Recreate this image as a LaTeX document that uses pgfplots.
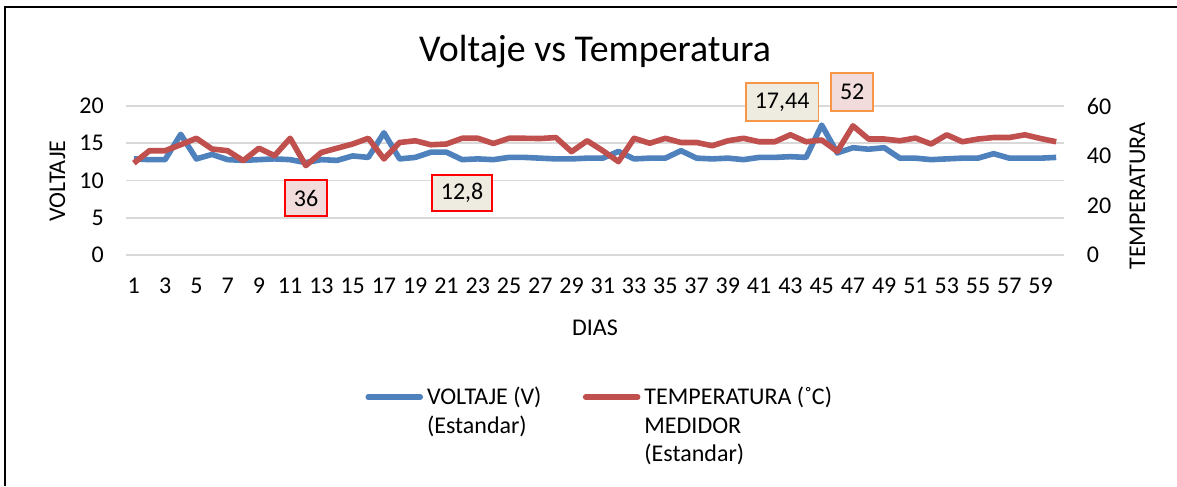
\documentclass[border=0pt]{standalone}
\usepackage{fontspec}
\setmainfont{Carlito}
\usepackage{pgfplots}
\pgfplotsset{compat=1.18}
\definecolor{vblue}{HTML}{4F81BD}
\definecolor{tred}{HTML}{C0504D}
\definecolor{gridgray}{HTML}{D9D9D9}
\definecolor{pinkfill}{HTML}{F2DCDB}
\definecolor{beigefill}{HTML}{EEECE1}
\definecolor{orangeb}{HTML}{F79646}
\pgfplotstableread{
d v
1 12.9
2 12.8
3 12.8
4 16.2
5 12.9
6 13.5
7 12.8
8 12.7
9 12.8
10 12.9
11 12.8
12 12.4
13 12.8
14 12.7
15 13.3
16 13.1
17 16.4
18 12.9
19 13.1
20 13.8
21 13.8
22 12.8
23 12.9
24 12.8
25 13.1
26 13.1
27 13.0
28 12.9
29 12.9
30 13.0
31 13.0
32 13.9
33 12.9
34 13.0
35 13.0
36 14.0
37 13.0
38 12.9
39 13.0
40 12.8
41 13.1
42 13.1
43 13.2
44 13.1
45 17.44
46 13.7
47 14.4
48 14.2
49 14.4
50 13.0
51 13.0
52 12.8
53 12.9
54 13.0
55 13.0
56 13.6
57 13.0
58 13.0
59 13.0
60 13.1
}\voltdata
\pgfplotstableread{
d t
1 37
2 42
3 42
4 44.4
5 47
6 42.7
7 42
8 38
9 43
10 40
11 47
12 36
13 41.3
14 43
15 44.7
16 47
17 38.7
18 45.3
19 46
20 44.4
21 44.7
22 47
23 47
24 44.9
25 47
26 47
27 46.9
28 47.3
29 41.6
30 46
31 42
32 37.6
33 47
34 45
35 47
36 45.3
37 45.3
38 44
39 46
40 47
41 45.6
42 45.6
43 48.4
44 45.6
45 46.3
46 41.7
47 52
48 46.7
49 46.7
50 46
51 47.1
52 44.7
53 48.4
54 45.6
55 46.7
56 47.3
57 47.3
58 48.4
59 46.9
60 45.6
}\tempdata
\begin{document}
\fontsize{18}{21.6}\selectfont
\begin{tikzpicture}
\path[use as bounding box] (0pt,0pt) rectangle (882.75pt,364.5pt);
\draw[black,line width=1.5pt] (3.75pt,0pt) -- (3.75pt,359.25pt) -- (882.75pt,359.25pt);
% left axis: voltage
\begin{axis}[
  at={(94.5pt,173.25pt)}, anchor=south west,
  scale only axis, width=703.5pt, height=111.75pt,
  xmin=0.5, xmax=60.5, ymin=0, ymax=20,
  xtick={1,3,...,59}, ytick={0,5,...,20},
  major tick length=0pt,
  axis line style={draw=none},
  ymajorgrids, grid style={gridgray,line width=1.3pt},
  /pgf/number format/assume math mode=true,
  tick label style={font=\fontsize{18}{21.6}\selectfont},
  yticklabel style={xshift=-10.5pt},
  xticklabel style={yshift=-11pt},
  clip=false,
  xlabel={DIAS},
  xlabel style={at={(axis description cs:0.5,-0.49)}, anchor=center, font=\fontsize{18}{21.6}\selectfont},
  ylabel={VOLTAJE},
  ylabel style={at={(axis description cs:-0.073,0.497)}, anchor=center, font=\fontsize{18}{21.6}\selectfont},
  title={Voltaje vs Temperatura},
  title style={at={(axis description cs:0.5,1.309)}, anchor=center, font=\fontsize{28.4}{33}\selectfont},
  legend columns=2,
  legend style={draw=none, fill=none, inner sep=0pt,
    at={(axis description cs:0.255,-0.865)}, anchor=north west,
    font=\fontsize{18}{21.6}\selectfont,
    cells={anchor=base west},
    nodes={inner xsep=3pt, inner ysep=0pt},
    /tikz/every even column/.append style={column sep=28pt}},
  legend image code/.code={\draw[#1,line cap=round] (0pt,0.3em) -- (39pt,0.3em);},
]
\addplot[vblue, line width=4.2pt, line join=round] table[x=d,y=v] {\voltdata};
\addlegendentry{\begin{tabular}[t]{@{}l@{}}VOLTAJE (V)\\(Estandar)\end{tabular}}
\addlegendimage{tred, line width=4.2pt}
\addlegendentry{\begin{tabular}[t]{@{}l@{}}TEMPERATURA (˚C)\\MEDIDOR\\(Estandar)\end{tabular}}
\node[draw=red, fill=pinkfill, line width=1.4pt, minimum height=27.5pt, inner xsep=6.5pt, inner ysep=0pt] at (axis cs:12.02,7.65) {36};
\node[draw=red, fill=beigefill, line width=1.4pt, minimum height=27.5pt, inner xsep=6.5pt, inner ysep=0pt] at (axis cs:22.0,8.32) {12,8};
\node[draw=orangeb, fill=beigefill, line width=1.4pt, minimum height=28.5pt, inner xsep=6.8pt, inner ysep=0pt] at (axis cs:42.47,20.54) {17,44};
\node[draw=orangeb, fill=pinkfill, line width=1.4pt, minimum height=28.5pt, inner xsep=6.5pt, inner ysep=0pt] at (axis cs:46.95,21.88) {52};
\end{axis}
% right axis: temperature
\begin{axis}[
  at={(94.5pt,173.25pt)}, anchor=south west,
  scale only axis, width=703.5pt, height=111.75pt,
  xmin=0.5, xmax=60.5, ymin=0, ymax=60,
  hide x axis,
  axis y line*=right,
  axis line style={draw=none},
  ytick={0,20,...,60},
  major tick length=0pt,
  /pgf/number format/assume math mode=true,
  tick label style={font=\fontsize{18}{21.6}\selectfont},
  yticklabel style={xshift=11pt},
  clip=false,
  ylabel={TEMPERATURA},
  ylabel style={at={(axis description cs:1.0784,0.396)}, anchor=center, rotate=0, font=\fontsize{18}{21.6}\selectfont},
]
\addplot[tred, line width=4.2pt, line join=round] table[x=d,y=t] {\tempdata};
\end{axis}
\end{tikzpicture}
\end{document}
